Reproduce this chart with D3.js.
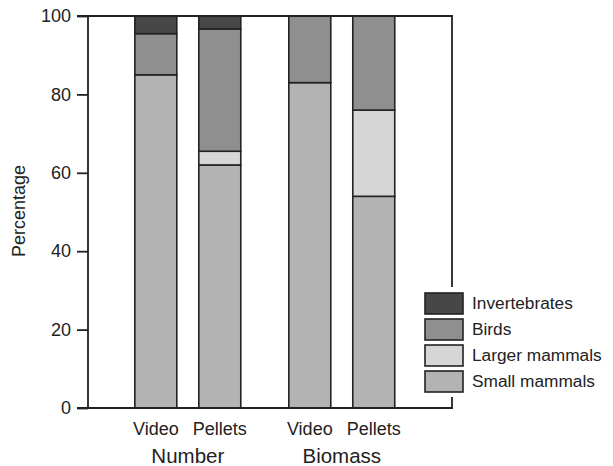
<!DOCTYPE html>
<html>
<head>
<meta charset="utf-8">
<script src="https://cdn.jsdelivr.net/npm/d3@7"></script>
<style>
  body { margin: 0; background: #fff; }
  text { font-family: "Liberation Sans", Arial, sans-serif; fill: #222; }
</style>
</head>
<body>
<svg id="chart" width="613" height="466"></svg>
<script>
// bars, in drawing order (left to right)
const groups = ['Number', 'Number', 'Biomass', 'Biomass'];
const methods = ['Video', 'Pellets', 'Video', 'Pellets'];
// stacked from the bottom up
const categories = ['Small mammals', 'Larger mammals', 'Birds', 'Invertebrates'];
const smallMammals = [85, 62, 83, 54];
const largerMammals = [0, 3.5, 0, 22];
const birds = [10.5, 31.2, 17, 24];
const invertebrates = [4.5, 3.3, 0, 0];
const yTicks = [0, 20, 40, 60, 80, 100];

const fills = {
  'Small mammals': '#b3b3b3',
  'Larger mammals': '#d6d6d6',
  'Birds': '#8f8f8f',
  'Invertebrates': '#474747',
};

const svg = d3.select('#chart');
const mLeft = 88, mRight = 452, mTop = 16, mBottom = 408;
const stroke = '#222';

const y = d3.scaleLinear().domain([0, 100]).range([mBottom, mTop]);

// outer band for the two groups, inner band for the two methods
const groupNames = ['Number', 'Biomass'];
const x0 = d3.scaleBand().domain(groupNames).range([mLeft, mRight])
  .paddingInner(0.312).paddingOuter(0.338).align(0.45);
const x1 = d3.scaleBand().domain(['Video', 'Pellets']).range([0, x0.bandwidth()])
  .paddingInner(0.344).paddingOuter(0);
const barX = (i) => x0(groups[i]) + x1(methods[i]);

// stacked data
const rows = methods.map((m, i) => ({
  idx: i,
  'Small mammals': smallMammals[i],
  'Larger mammals': largerMammals[i],
  'Birds': birds[i],
  'Invertebrates': invertebrates[i],
}));
const stack = d3.stack().keys(categories)(rows);

// bars
stack.forEach((layer) => {
  svg.append('g')
    .selectAll('rect')
    .data(layer.filter((d) => d[1] - d[0] > 0))
    .enter()
    .append('rect')
    .attr('x', (d) => barX(d.data.idx))
    .attr('width', x1.bandwidth())
    .attr('y', (d) => y(d[1]))
    .attr('height', (d) => y(d[0]) - y(d[1]))
    .style('fill', fills[layer.key])
    .style('stroke', stroke)
    .style('stroke-width', 1.6);
});

// frame: left, top, bottom, right (right one broken by the legend)
function frameLine(x1p, y1p, x2p, y2p) {
  svg.append('line')
    .attr('x1', x1p).attr('y1', y1p).attr('x2', x2p).attr('y2', y2p)
    .style('stroke', stroke).style('stroke-width', 1.8);
}
frameLine(mLeft, mTop, mLeft, mBottom);
frameLine(mLeft - 11, mTop, mRight + 1, mTop);
frameLine(mLeft - 11, mBottom, mRight + 1, mBottom);
frameLine(mRight, mTop, mRight, 287);
frameLine(mRight, 397, mRight, mBottom);

// y axis ticks
const yAxis = svg.append('g').attr('transform', `translate(${mLeft},0)`)
  .call(d3.axisLeft(y).tickValues(yTicks).tickSize(11).tickPadding(6).tickFormat(d3.format('d')));
yAxis.select('.domain').remove();
yAxis.selectAll('line').style('stroke', stroke).style('stroke-width', 1.8);
yAxis.selectAll('text').style('font-size', '18px').style('fill', '#222')
  .style('font-family', '"Liberation Sans", Arial, sans-serif');

svg.append('text')
  .attr('transform', 'translate(25, 211) rotate(-90)')
  .attr('text-anchor', 'middle')
  .style('font-size', '18px')
  .text('Percentage');

// bar labels and group labels
methods.forEach((m, i) => {
  svg.append('text')
    .attr('x', barX(i) + x1.bandwidth() / 2)
    .attr('y', 435)
    .attr('text-anchor', 'middle')
    .style('font-size', '18px')
    .text(m);
});
groupNames.forEach((g) => {
  svg.append('text')
    .attr('x', x0(g) + x0.bandwidth() / 2)
    .attr('y', 463)
    .attr('text-anchor', 'middle')
    .style('font-size', '20.5px')
    .text(g);
});

// legend (top to bottom, reversed stack order)
const legendItems = categories.slice().reverse();
const leg = svg.append('g').attr('transform', 'translate(425, 293)');
legendItems.forEach((c, i) => {
  leg.append('rect')
    .attr('x', 0)
    .attr('y', i * 26)
    .attr('width', 38)
    .attr('height', 21)
    .style('fill', fills[c])
    .style('stroke', stroke)
    .style('stroke-width', 1.6);
  leg.append('text')
    .attr('x', 47)
    .attr('y', i * 26 + 15.5)
    .style('font-size', '17.3px')
    .text(c);
});
</script>
</body>
</html>
